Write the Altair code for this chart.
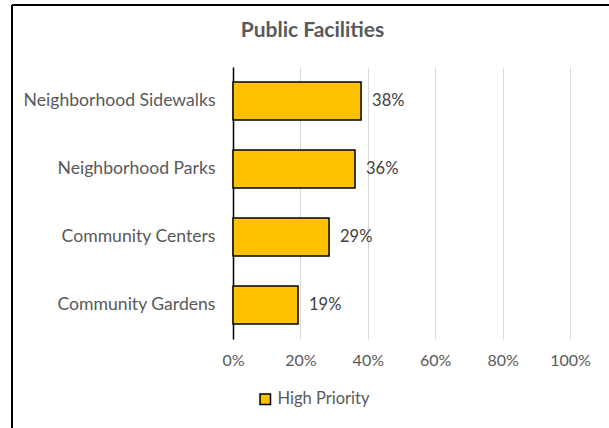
import altair as alt
import pandas as pd

categories = ["Neighborhood Sidewalks", "Neighborhood Parks", "Community Centers", "Community Gardens"]
values = [0.38, 0.362, 0.285, 0.193]
labels = ["38%", "36%", "29%", "19%"]
series = "High Priority"

df = pd.DataFrame({"category": categories, "value": values, "label": labels, "series": [series] * 4})

FONT = "Lato"
GREY = "#595959"
FS = 16.5

W, H = 337, 272

base = alt.Chart(df)

bars = base.mark_bar(stroke="black", strokeWidth=1.5).encode(
    x=alt.X("value:Q", scale=alt.Scale(domain=[0, 1]),
            axis=alt.Axis(format="%", values=[0, 0.2, 0.4, 0.6, 0.8, 1.0], grid=True,
                          gridColor="#d9d9d9", gridWidth=1, domain=False, ticks=False,
                          labelFlush=False,
                          labelPadding=13, labelFontSize=16, labelColor=GREY, labelFont=FONT,
                          title=None)),
    y=alt.Y("category:N", sort=categories,
            scale=alt.Scale(paddingInner=0.44, paddingOuter=0.22),
            axis=alt.Axis(domain=True, domainColor="black", domainWidth=1.5, ticks=False,
                          labelPadding=18, labelFontSize=17.6, labelColor=GREY, labelFont=FONT,
                          labelLimit=300, title=None, grid=False)),
    color=alt.Color("series:N", scale=alt.Scale(range=["#FFC000"]),
                    legend=alt.Legend(title=None, orient="none", legendX=24, legendY=324,
                                      symbolType="square", symbolStrokeColor="black",
                                      symbolStrokeWidth=1.5, symbolSize=110,
                                      labelFontSize=FS, labelColor=GREY, labelFont=FONT,
                                      labelOffset=4)),
)

text = base.mark_text(align="left", baseline="middle", dx=11, fontSize=FS, color="#404040", font=FONT).encode(
    x="value:Q",
    y=alt.Y("category:N", sort=categories),
    text="label:N",
)

border_left = alt.Chart(df).mark_rule(color="black", strokeWidth=2).encode(
    x=alt.value(-221), y=alt.value(-62), y2=alt.value(H + 100))
border_top = alt.Chart(df).mark_rule(color="black", strokeWidth=2).encode(
    x=alt.value(-221), x2=alt.value(W + 50), y=alt.value(-62))

chart = alt.layer(bars, text, border_left, border_top).properties(
    width=W, height=H,
    title=alt.TitleParams("Public Facilities", fontSize=21, fontWeight="bold", color=GREY,
                          font=FONT, anchor="middle", dx=-89, offset=-37),
    autosize=alt.AutoSizeParams(type="none"),
    padding={"left": 233, "top": 67, "right": 39, "bottom": 89},
).configure_view(stroke=None)

chart.save("out.html", embed_options={"renderer": "svg", "actions": False})
